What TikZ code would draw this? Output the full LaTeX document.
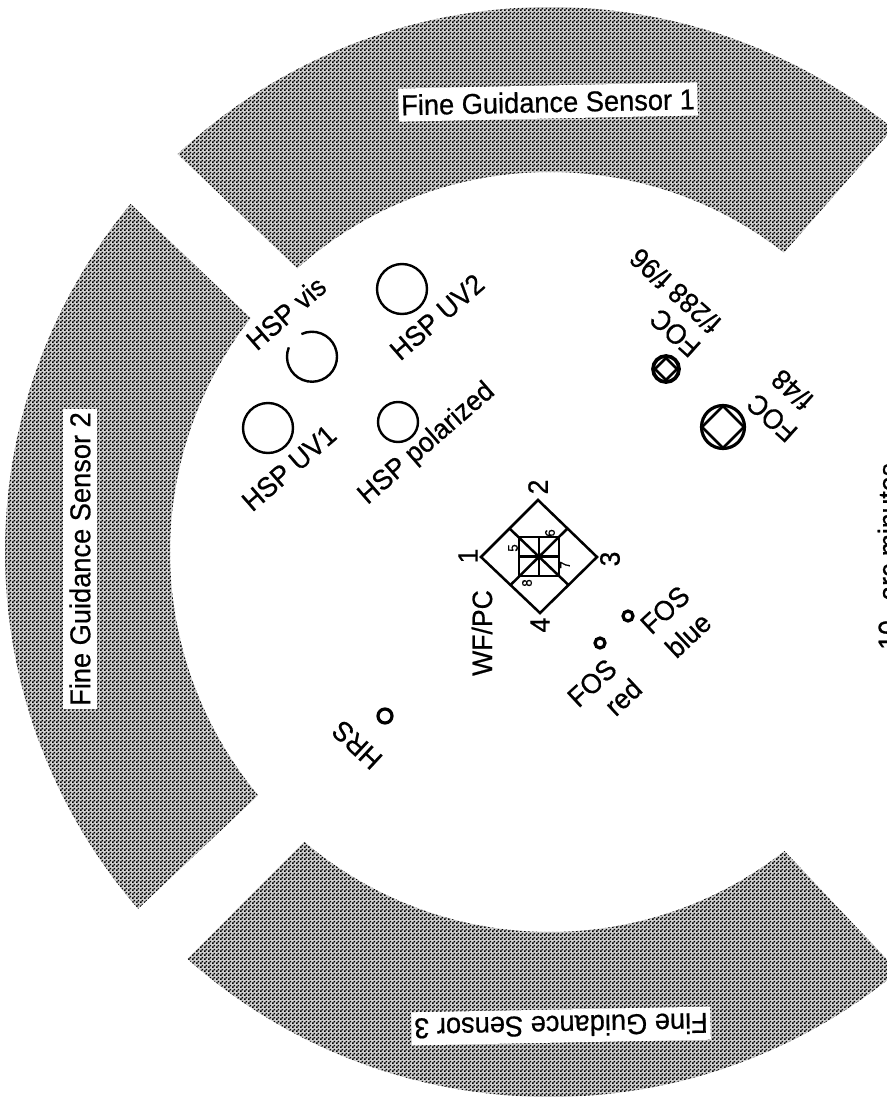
\documentclass[tikz,border=0pt]{standalone}
\usepackage{fontspec}
\setmainfont[FakeBold=0.6,FakeStretch=0.95]{Liberation Sans}
\usetikzlibrary{patterns}
\pgfdeclarepatternformonly{halftone}{\pgfqpoint{0pt}{0pt}}{\pgfqpoint{3pt}{3pt}}{\pgfqpoint{3pt}{3pt}}{%
  \pgfpathrectangle{\pgfqpoint{0pt}{0pt}}{\pgfqpoint{1.5pt}{1.5pt}}
  \pgfpathrectangle{\pgfqpoint{1.5pt}{1.5pt}}{\pgfqpoint{1.5pt}{1.5pt}}
  \pgfusepath{fill}}
\tikzset{
  sensorband/.style={preaction={fill=black!18},pattern=halftone,pattern color=black,draw=none},
  sensorlabel/.style={fill=white,inner xsep=2pt,inner ysep=4.5pt,font=\fontsize{21.5}{24}\selectfont},
  label/.style={inner sep=0pt,font=\fontsize{21}{24}\selectfont},
  tinylabel/.style={inner sep=0pt,rotate=90,font=\fontsize{10.5}{12}\selectfont},
  aperture/.style={draw=black,line width=1.8pt},
  thickap/.style={draw=black,line width=2.4pt},
  wfline/.style={draw=black,line width=1.9pt,line join=miter}
}
\newcommand{\sensorsector}[4]{%
  \fill[sensorband] plot[domain=#1:#2,samples=90] ({550+545*cos(\x)},{552-545*sin(\x)})
    -- plot[domain=#4:#3,samples=70] ({550+380*cos(\x)},{552-380*sin(\x)}) -- cycle;}
\begin{document}
\begin{tikzpicture}[x=0.75pt,y=-0.75pt]
\useasboundingbox (0,0) rectangle (887,1099);
\fill[white] (0,0) rectangle (887,1099);
\sensorsector{51}{133.1}{52}{131.7}
\sensorsector{140.3}{220.9}{142}{219.8}
\sensorsector{228.3}{309.7}{229.7}{308.1}
\node[sensorlabel,rotate=1.2] (fgs1) at (548,102) {Fine Guidance Sensor 1};
\node[sensorlabel,rotate=90] (fgs2) at (80,559) {Fine Guidance Sensor 2};
\node[sensorlabel,rotate=181.1] (fgs3) at (561,1026) {Fine Guidance Sensor 3};
% HSP
\draw[aperture] (312,338) ++(158:25) arc[start angle=-158,end angle=-475,radius=25];
\draw[aperture] (402,289) circle[radius=25];
\draw[aperture] (268,428) circle[radius=25];
\draw[aperture] (398,422) circle[radius=20];
\node[label,rotate=41] (hspvis) at (286,313) {HSP vis};
\node[label,rotate=41] (hspuv2) at (437,317) {HSP UV2};
\node[label,rotate=41] (hspuv1) at (289,468) {HSP UV1};
\node[label,rotate=41] (hsppol) at (427,444) {HSP polarized};
% FOC
\draw[thickap,line width=2.8pt] (666,369) circle[radius=13];
\draw[wfline,line join=round] (666,358) -- (677,369) -- (666,380) -- (655,369) -- cycle;
\draw[thickap] (723,427) circle[radius=21.5];
\draw[wfline] (723,406) -- (744,427) -- (723,448) -- (702,427) -- cycle;
\node[label,rotate=138] (foc1) at (675,333) {FOC};
\node[label,rotate=138] (foc1b) at (675,291) {f/288 f/96};
\node[label,rotate=138] (foc2) at (772,418) {FOC};
\node[label,rotate=138] (foc2b) at (792,390) {f/48};
% WF/PC
\draw[wfline] (538,500) -- (597,557) -- (540,613) -- (481,557) -- cycle;
\draw[wfline] (519,537) rectangle (559,576);
\draw[wfline] (539,537) -- (539,576);
\draw[wfline] (519,556.5) -- (559,556.5);
\draw[wfline] (509.5,528.5) -- (568.5,585);
\draw[wfline] (567.5,528.5) -- (510.5,585);
\node[label,rotate=90] (n1) at (468,556) {1};
\node[label,rotate=90] (n2) at (538,487) {2};
\node[label,rotate=90] (n3) at (610,559) {3};
\node[label,rotate=90] (n4) at (540,625) {4};
\node[tinylabel] (n5) at (513,548) {5};
\node[tinylabel] (n6) at (550,533) {6};
\node[tinylabel] (n7) at (565,565) {7};
\node[tinylabel] (n8) at (527,583) {8};
\node[label,rotate=90] (wfpc) at (482,633) {WF/PC};
% FOS, HRS
\draw[thickap] (600,643) circle[radius=5];
\draw[thickap] (628,616) circle[radius=5];
\draw[thickap] (385,716) circle[radius=7];
\node[label,rotate=43] (fosr) at (592,683) {FOS};
\node[label,rotate=43] (red) at (623,697) {red};
\node[label,rotate=43] (fosb) at (665,610) {FOS};
\node[label,rotate=43] (blue) at (688,635) {blue};
\node[label,rotate=137] (hrs) at (357,745) {HRS};
% scale
\node[label,rotate=90,anchor=base west] (scale) at (898,650) {10\hspace{0.7em}arc minutes};
\end{tikzpicture}
\end{document}
